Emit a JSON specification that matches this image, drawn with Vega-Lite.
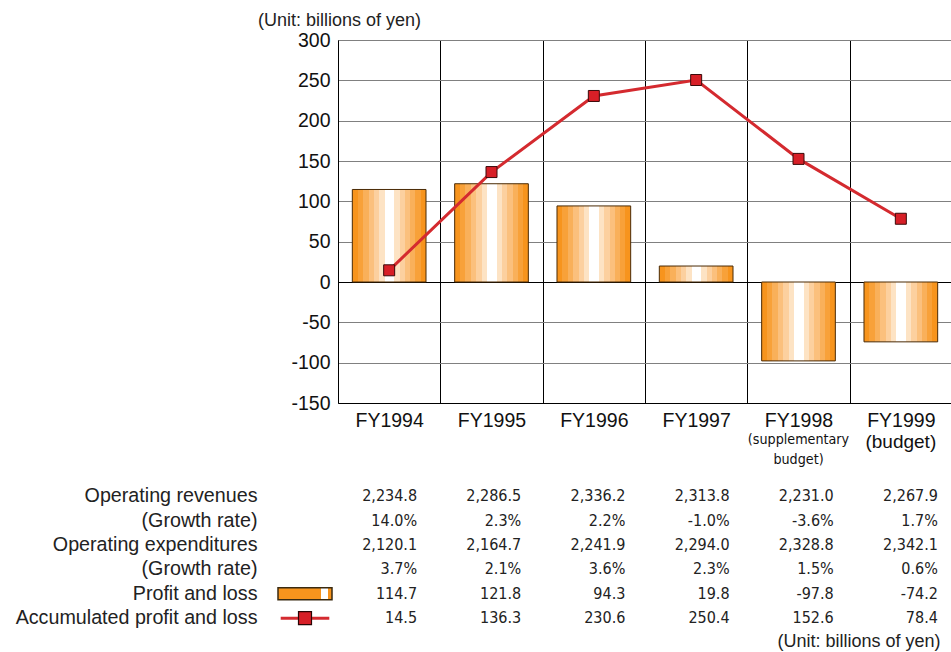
{
  "$schema": "https://vega.github.io/schema/vega-lite/v6.json",
  "autosize": {"type": "pad"},
  "padding": {"left": 15, "top": 12, "right": 0, "bottom": 0},
  "background": "white",
  "bounds": "flush",
  "spacing": 81,
  "config": {
    "view": {"stroke": null},
    "font": "Liberation Sans",
    "axis": {"labelFont": "Liberation Sans", "titleFont": "Liberation Sans"}
  },
  "datasets": {
    "main": [
      {"year": "FY1994", "pl": 114.7, "acc": 14.5},
      {"year": "FY1995", "pl": 121.8, "acc": 136.3},
      {"year": "FY1996", "pl": 94.3, "acc": 230.6},
      {"year": "FY1997", "pl": 19.8, "acc": 250.4},
      {"year": "FY1998", "pl": -97.8, "acc": 152.6},
      {"year": "FY1999", "pl": -74.2, "acc": 78.4}
    ],
    "table": [
      {"row": "Operating revenues", "year": "FY1994", "v": "2,234.8"},
      {"row": "Operating revenues", "year": "FY1995", "v": "2,286.5"},
      {"row": "Operating revenues", "year": "FY1996", "v": "2,336.2"},
      {"row": "Operating revenues", "year": "FY1997", "v": "2,313.8"},
      {"row": "Operating revenues", "year": "FY1998", "v": "2,231.0"},
      {"row": "Operating revenues", "year": "FY1999", "v": "2,267.9"},
      {"row": "Revenue growth", "year": "FY1994", "v": "14.0%"},
      {"row": "Revenue growth", "year": "FY1995", "v": "2.3%"},
      {"row": "Revenue growth", "year": "FY1996", "v": "2.2%"},
      {"row": "Revenue growth", "year": "FY1997", "v": "-1.0%"},
      {"row": "Revenue growth", "year": "FY1998", "v": "-3.6%"},
      {"row": "Revenue growth", "year": "FY1999", "v": "1.7%"},
      {"row": "Operating expenditures", "year": "FY1994", "v": "2,120.1"},
      {"row": "Operating expenditures", "year": "FY1995", "v": "2,164.7"},
      {"row": "Operating expenditures", "year": "FY1996", "v": "2,241.9"},
      {"row": "Operating expenditures", "year": "FY1997", "v": "2,294.0"},
      {"row": "Operating expenditures", "year": "FY1998", "v": "2,328.8"},
      {"row": "Operating expenditures", "year": "FY1999", "v": "2,342.1"},
      {"row": "Expenditure growth", "year": "FY1994", "v": "3.7%"},
      {"row": "Expenditure growth", "year": "FY1995", "v": "2.1%"},
      {"row": "Expenditure growth", "year": "FY1996", "v": "3.6%"},
      {"row": "Expenditure growth", "year": "FY1997", "v": "2.3%"},
      {"row": "Expenditure growth", "year": "FY1998", "v": "1.5%"},
      {"row": "Expenditure growth", "year": "FY1999", "v": "0.6%"},
      {"row": "Profit and loss", "year": "FY1994", "v": "114.7"},
      {"row": "Profit and loss", "year": "FY1995", "v": "121.8"},
      {"row": "Profit and loss", "year": "FY1996", "v": "94.3"},
      {"row": "Profit and loss", "year": "FY1997", "v": "19.8"},
      {"row": "Profit and loss", "year": "FY1998", "v": "-97.8"},
      {"row": "Profit and loss", "year": "FY1999", "v": "-74.2"},
      {"row": "Accumulated profit and loss", "year": "FY1994", "v": "14.5"},
      {"row": "Accumulated profit and loss", "year": "FY1995", "v": "136.3"},
      {"row": "Accumulated profit and loss", "year": "FY1996", "v": "230.6"},
      {"row": "Accumulated profit and loss", "year": "FY1997", "v": "250.4"},
      {"row": "Accumulated profit and loss", "year": "FY1998", "v": "152.6"},
      {"row": "Accumulated profit and loss", "year": "FY1999", "v": "78.4"}
    ],
    "legendBar": [{"row": "Profit and loss"}],
    "legendLine": [{"row": "Accumulated profit and loss"}]
  },
  "vconcat": [
    {
      "width": 614,
      "height": 363,
      "data": {"name": "main"},
      "title": {
        "text": "(Unit: billions of yen)",
        "anchor": "start",
        "frame": "group",
        "dx": -80,
        "offset": -18,
        "baseline": "bottom",
        "fontSize": 18,
        "fontWeight": "normal",
        "color": "#222",
        "font": "Liberation Sans"
      },
      "layer": [
        {
          "mark": {
            "type": "bar",
            "width": {"band": 0.72},
            "stroke": "#4a2a05",
            "strokeWidth": 1,
            "fill": {
              "gradient": "linear", "x1": 0, "y1": 0, "x2": 1, "y2": 0,
              "stops": [
                {"offset": 0, "color": "#F7941D"}, {"offset": 0.073, "color": "#F7941D"},
                {"offset": 0.073, "color": "#F8A139"}, {"offset": 0.146, "color": "#F8A139"},
                {"offset": 0.146, "color": "#F9B05A"}, {"offset": 0.22, "color": "#F9B05A"},
                {"offset": 0.22, "color": "#FBC07D"}, {"offset": 0.293, "color": "#FBC07D"},
                {"offset": 0.293, "color": "#FCD09F"}, {"offset": 0.366, "color": "#FCD09F"},
                {"offset": 0.366, "color": "#FDE3C4"}, {"offset": 0.44, "color": "#FDE3C4"},
                {"offset": 0.44, "color": "#FFFFFF"}, {"offset": 0.57, "color": "#FFFFFF"},
                {"offset": 0.57, "color": "#FDE3C4"}, {"offset": 0.642, "color": "#FDE3C4"},
                {"offset": 0.642, "color": "#FCD09F"}, {"offset": 0.714, "color": "#FCD09F"},
                {"offset": 0.714, "color": "#FBC07D"}, {"offset": 0.786, "color": "#FBC07D"},
                {"offset": 0.786, "color": "#F9B05A"}, {"offset": 0.857, "color": "#F9B05A"},
                {"offset": 0.857, "color": "#F8A139"}, {"offset": 0.929, "color": "#F8A139"},
                {"offset": 0.929, "color": "#F7941D"}, {"offset": 1, "color": "#F7941D"}
              ]
            }
          },
          "encoding": {
            "x": {
              "field": "year", "type": "nominal", "sort": null,
              "scale": {"paddingInner": 0, "paddingOuter": 0},
              "axis": {
                "title": null, "tickBand": "extent", "grid": true, "gridColor": "#000", "gridWidth": 1,
                "domainColor": "#000", "ticks": false, "labelAngle": 0, "labelPadding": 8,
                "labelFontSize": 19.5, "labelColor": "#111", "labelOverlap": false
              }
            },
            "y": {
              "field": "pl", "type": "quantitative",
              "scale": {"domain": [-150, 300], "nice": false},
              "axis": {
                "title": null, "values": [-150, -100, -50, 0, 50, 100, 150, 200, 250, 300],
                "labelExpr": "'' + datum.value", "grid": true,
                "gridColor": {"condition": {"test": "datum.value === 0", "value": "#000"}, "value": "#808080"},
                "domainColor": "#000", "ticks": false, "labelPadding": 8,
                "labelFontSize": 19.5, "labelColor": "#111"
              }
            }
          }
        },
        {
          "mark": {"type": "line", "color": "#D42A2F", "strokeWidth": 3},
          "encoding": {
            "x": {
              "field": "year", "type": "nominal", "sort": null,
              "axis": {
                "orient": "bottom", "title": null, "grid": false, "domain": false, "ticks": false,
                "labelAngle": 0, "labelPadding": 29, "labelOverlap": false, "labelLineHeight": 20,
                "labelExpr": "datum.value == 'FY1998' ? ['(supplementary', 'budget)'] : (datum.value == 'FY1999' ? '(budget)' : '')",
                "labelFont": {"condition": {"test": "datum.value == 'FY1999'", "value": "Liberation Sans"}, "value": "DejaVu Sans Condensed, Liberation Sans"},
                "labelFontSize": {"condition": {"test": "datum.value == 'FY1999'", "value": 19}, "value": 14.2},
                "labelColor": "#111"
              }
            },
            "y": {
              "field": "acc", "type": "quantitative",
              "scale": {"domain": [-150, 300], "nice": false},
              "axis": {
                "title": null, "values": [-150, -100, -50, 0, 50, 100, 150, 200, 250, 300],
                "labelExpr": "'' + datum.value", "grid": true,
                "gridColor": {"condition": {"test": "datum.value === 0", "value": "#000"}, "value": "#808080"},
                "domainColor": "#000", "ticks": false, "labelPadding": 8,
                "labelFontSize": 19.5, "labelColor": "#111"
              }
            }
          }
        },
        {
          "mark": {"type": "point", "shape": "square", "size": 121, "filled": true, "fill": "#D71F27", "stroke": "#3b0a0a", "strokeWidth": 1, "opacity": 1},
          "encoding": {
            "x": {"field": "year", "type": "nominal", "sort": null, "axis": null},
            "y": {
              "field": "acc", "type": "quantitative",
              "scale": {"domain": [-150, 300], "nice": false},
              "axis": {
                "title": null, "values": [-150, -100, -50, 0, 50, 100, 150, 200, 250, 300],
                "labelExpr": "'' + datum.value", "grid": true,
                "gridColor": {"condition": {"test": "datum.value === 0", "value": "#000"}, "value": "#808080"},
                "domainColor": "#000", "ticks": false, "labelPadding": 8,
                "labelFontSize": 19.5, "labelColor": "#111"
              }
            }
          }
        }
      ],
      "resolve": {"axis": {"x": "independent"}}
    },
    {
      "width": 625,
      "height": 146.4,
      "layer": [
        {
          "data": {"name": "table"},
          "mark": {"type": "text", "align": "right", "baseline": "middle", "dx": 27, "font": "DejaVu Sans Condensed, Liberation Sans", "fontSize": 16, "color": "#222"},
          "encoding": {
            "x": {
              "field": "year", "type": "nominal", "sort": null,
              "scale": {"paddingInner": 0, "paddingOuter": 0},
              "axis": {
                "labels": false, "ticks": false, "domain": false, "grid": false,
                "title": "(Unit: billions of yen)", "titleX": 602, "titleAlign": "right",
                "titleFontSize": 18, "titleFontWeight": "normal", "titleColor": "#222", "titlePadding": 2
              }
            },
            "y": {
              "field": "row", "type": "nominal",
              "scale": {"domain": ["Operating revenues", "Revenue growth", "Operating expenditures", "Expenditure growth", "Profit and loss", "Accumulated profit and loss"], "paddingInner": 0, "paddingOuter": 0},
              "axis": {
                "title": null, "domain": false, "ticks": false, "grid": false, "labelPadding": 81,
                "labelExpr": "indexof(datum.value, 'growth') >= 0 ? '(Growth rate)' : datum.value",
                "labelFontSize": 19.7, "labelColor": "#222", "labelLimit": 400
              }
            },
            "text": {"field": "v"}
          }
        },
        {
          "data": {"name": "legendBar"},
          "mark": {
            "type": "bar", "height": 12, "stroke": "#3a2a10", "strokeWidth": 1.5,
            "fill": {
              "gradient": "linear", "x1": 0, "y1": 0, "x2": 1, "y2": 0,
              "stops": [
                {"offset": 0, "color": "#F7941D"}, {"offset": 0.8, "color": "#F7941D"},
                {"offset": 0.8, "color": "#FFFFFF"}, {"offset": 0.92, "color": "#FFFFFF"},
                {"offset": 0.92, "color": "#F7941D"}, {"offset": 1, "color": "#F7941D"}
              ]
            }
          },
          "encoding": {
            "x": {"datum": 0, "type": "quantitative", "scale": {"domain": [0, 1], "range": [-60, -6]}, "axis": null},
            "x2": {"datum": 1},
            "y": {
              "field": "row", "type": "nominal",
              "scale": {"domain": ["Operating revenues", "Revenue growth", "Operating expenditures", "Expenditure growth", "Profit and loss", "Accumulated profit and loss"], "paddingInner": 0, "paddingOuter": 0},
              "axis": {
                "title": null, "domain": false, "ticks": false, "grid": false, "labelPadding": 81,
                "labelExpr": "indexof(datum.value, 'growth') >= 0 ? '(Growth rate)' : datum.value",
                "labelFontSize": 19.7, "labelColor": "#222", "labelLimit": 400
              }
            }
          }
        },
        {
          "data": {"name": "legendLine"},
          "mark": {"type": "rule", "color": "#D42A2F", "strokeWidth": 3},
          "encoding": {
            "x": {"datum": 0.05, "type": "quantitative", "scale": {"domain": [0, 1], "range": [-60, -6]}, "axis": null},
            "x2": {"datum": 0.95},
            "y": {
              "field": "row", "type": "nominal",
              "scale": {"domain": ["Operating revenues", "Revenue growth", "Operating expenditures", "Expenditure growth", "Profit and loss", "Accumulated profit and loss"], "paddingInner": 0, "paddingOuter": 0},
              "axis": {
                "title": null, "domain": false, "ticks": false, "grid": false, "labelPadding": 81,
                "labelExpr": "indexof(datum.value, 'growth') >= 0 ? '(Growth rate)' : datum.value",
                "labelFontSize": 19.7, "labelColor": "#222", "labelLimit": 400
              }
            }
          }
        },
        {
          "data": {"name": "legendLine"},
          "mark": {"type": "point", "shape": "square", "size": 169, "filled": true, "fill": "#D71F27", "stroke": "#2a0505", "strokeWidth": 1.2, "opacity": 1},
          "encoding": {
            "x": {"datum": 0.5, "type": "quantitative", "scale": {"domain": [0, 1], "range": [-60, -6]}, "axis": null},
            "y": {
              "field": "row", "type": "nominal",
              "scale": {"domain": ["Operating revenues", "Revenue growth", "Operating expenditures", "Expenditure growth", "Profit and loss", "Accumulated profit and loss"], "paddingInner": 0, "paddingOuter": 0},
              "axis": {
                "title": null, "domain": false, "ticks": false, "grid": false, "labelPadding": 81,
                "labelExpr": "indexof(datum.value, 'growth') >= 0 ? '(Growth rate)' : datum.value",
                "labelFontSize": 19.7, "labelColor": "#222", "labelLimit": 400
              }
            }
          }
        }
      ],
      "resolve": {"scale": {"x": "independent"}, "axis": {"x": "independent"}}
    }
  ]
}
